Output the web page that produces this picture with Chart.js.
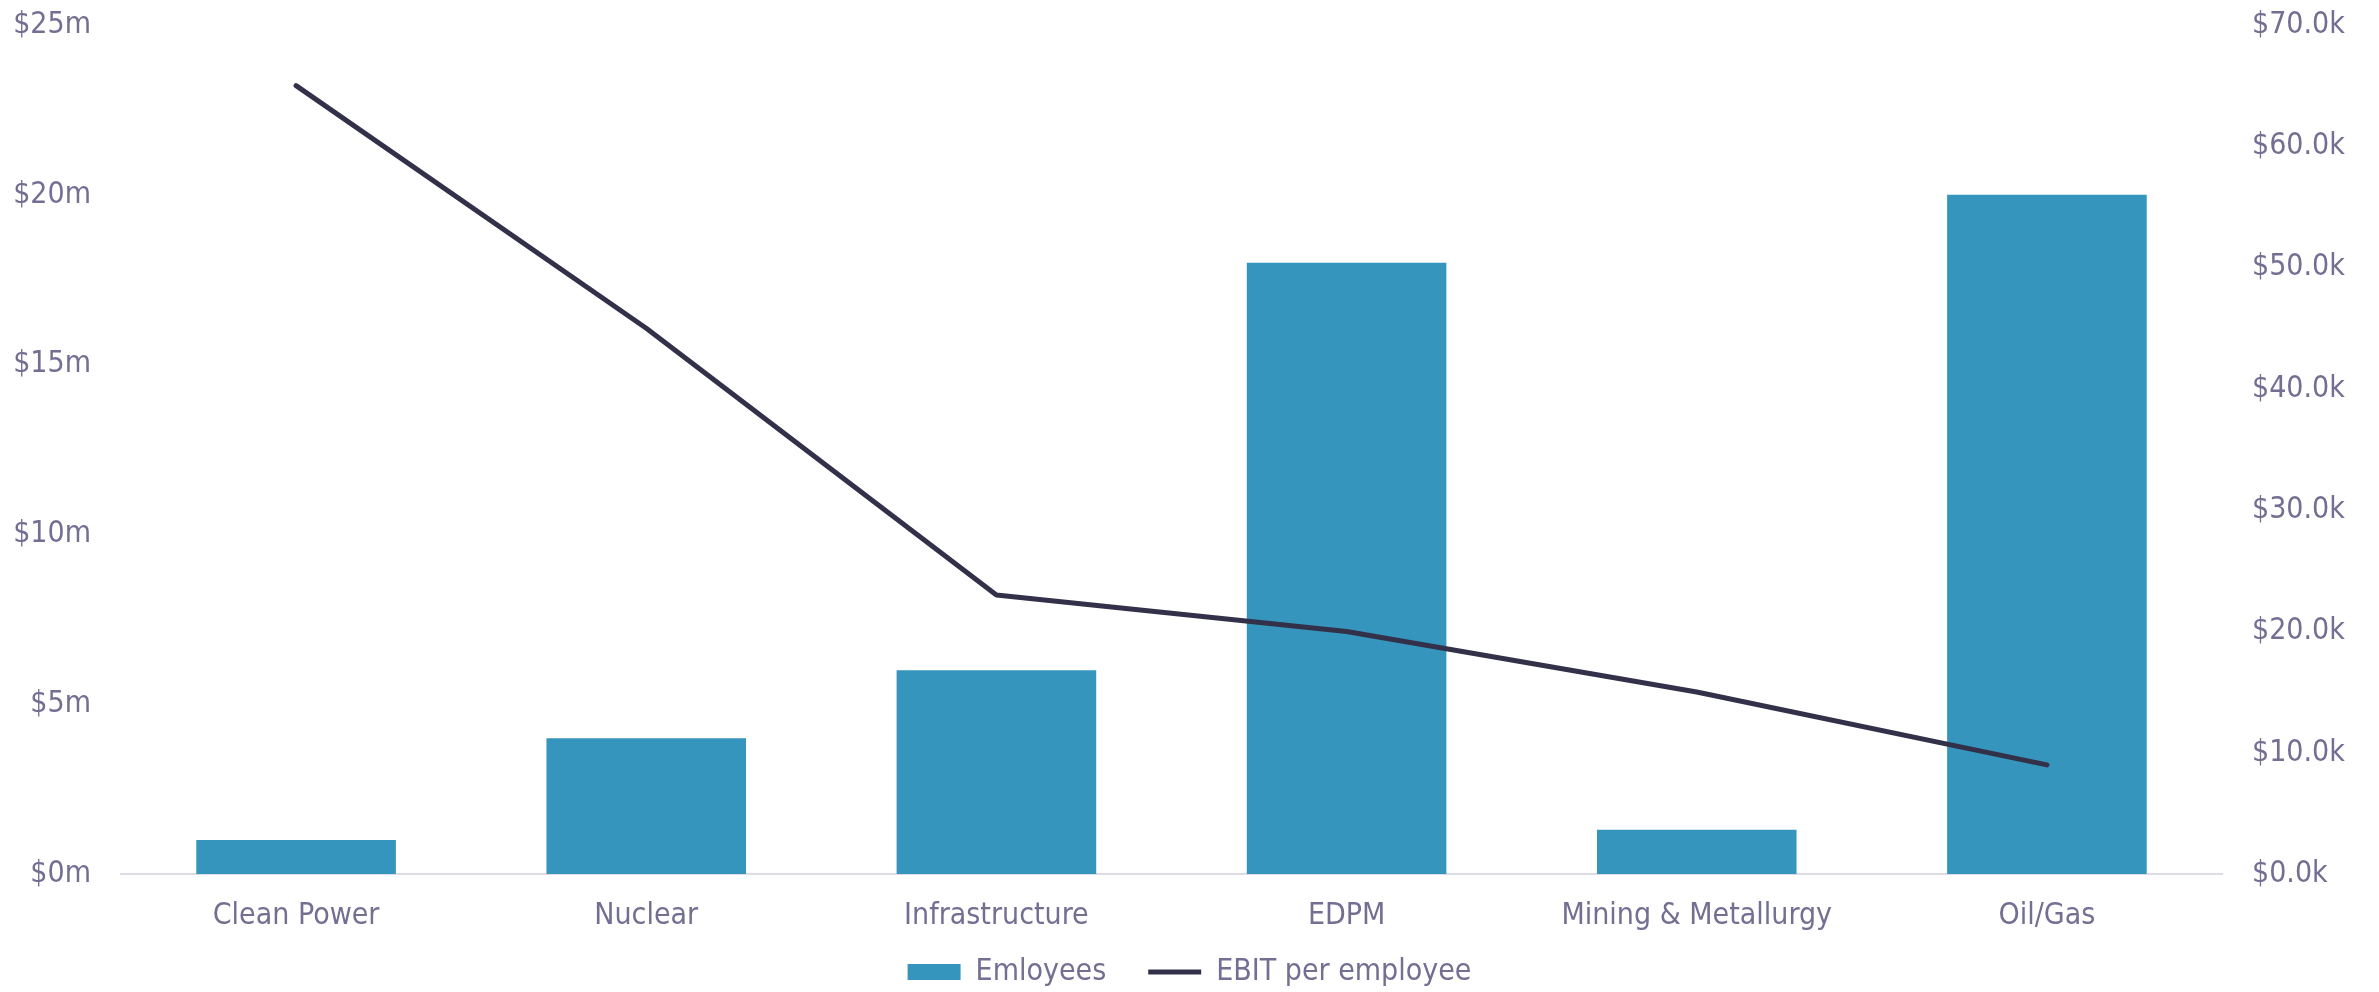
<!DOCTYPE html>
<html>
<head>
<meta charset="utf-8">
<script src="https://cdn.jsdelivr.net/npm/chart.js@4.4.1/dist/chart.umd.min.js"></script>
<style>
  html, body { margin: 0; padding: 0; background: #ffffff; }
  #wrap { width: 2379px; height: 992px; position: relative; }
</style>
</head>
<body>
<div id="wrap"><canvas id="c" width="2379" height="992"></canvas></div>
<script>
const categories = ["Clean Power", "Nuclear", "Infrastructure", "EDPM", "Mining & Metallurgy", "Oil/Gas"];
const employeesM = [1, 4, 6, 18, 1.3, 20];          // left axis, $m
const ebitPerEmployeeK = [65, 45, 23, 20, 15, 9];   // right axis, $k
const leftTicks = [0, 5, 10, 15, 20, 25];
const rightTicks = [0, 10, 20, 30, 40, 50, 60, 70];

const textColor = '#736f93';
const fontFamily = '"DejaVu Sans Condensed", "DejaVu Sans", sans-serif';

function noVPad(s) { s.paddingTop = 0; s.paddingBottom = 0; }

new Chart(document.getElementById('c'), {
  data: {
    labels: categories,
    datasets: [
      {
        type: 'line',
        label: 'EBIT per employee',
        data: ebitPerEmployeeK,
        yAxisID: 'y1',
        borderColor: '#33314a',
        backgroundColor: '#33314a',
        borderWidth: 5,
        borderCapStyle: 'round',
        borderJoinStyle: 'round',
        pointRadius: 0,
        pointStyle: 'line',
        tension: 0,
        order: 0
      },
      {
        type: 'bar',
        label: 'Emloyees',
        data: employeesM,
        yAxisID: 'y',
        backgroundColor: '#3595bc',
        borderWidth: 0,
        barPercentage: 0.57,
        categoryPercentage: 1.0,
        pointStyle: 'rect',
        order: 1
      }
    ]
  },
  options: {
    responsive: false,
    animation: false,
    layout: { padding: { top: 25, left: 0, right: 0, bottom: -5 } },
    plugins: {
      legend: {
        position: 'bottom',
        reverse: true,
        labels: {
          usePointStyle: true,
          pointStyleWidth: 53,
          boxHeight: 16,
          padding: 42,
          color: textColor,
          font: { family: fontFamily, size: 30 }
        }
      },
      tooltip: { enabled: false }
    },
    scales: {
      x: {
        afterFit: (s) => {
          s.height = 41;
          s._computeLabelArea = function () {
            return { top: this.top, left: 0, bottom: this.chart.height, right: this.chart.width };
          };
        },
        grid: { display: false, drawTicks: false },
        border: { display: true, color: '#dcdbe6', width: 2 },
        ticks: { color: textColor, font: { family: fontFamily, size: 30 }, padding: 24, maxRotation: 0 }
      },
      y: {
        position: 'left',
        min: 0, max: 25,
        afterBuildTicks: (s) => { s.ticks = leftTicks.map(v => ({ value: v })); },
        afterFit: (s) => { s.width = 121; noVPad(s); },
        grid: { display: false, drawTicks: false },
        border: { display: false },
        ticks: {
          color: textColor, font: { family: fontFamily, size: 30 }, padding: 30,
          callback: (v) => '$' + v + 'm'
        }
      },
      y1: {
        position: 'right',
        min: 0, max: 70,
        afterBuildTicks: (s) => { s.ticks = rightTicks.map(v => ({ value: v })); },
        afterFit: (s) => { s.width = 157; noVPad(s); },
        grid: { display: false, drawTicks: false },
        border: { display: false },
        ticks: {
          color: textColor, font: { family: fontFamily, size: 30 }, padding: 30,
          callback: (v) => '$' + Number(v).toFixed(1) + 'k'
        }
      }
    }
  }
});
</script>
</body>
</html>
